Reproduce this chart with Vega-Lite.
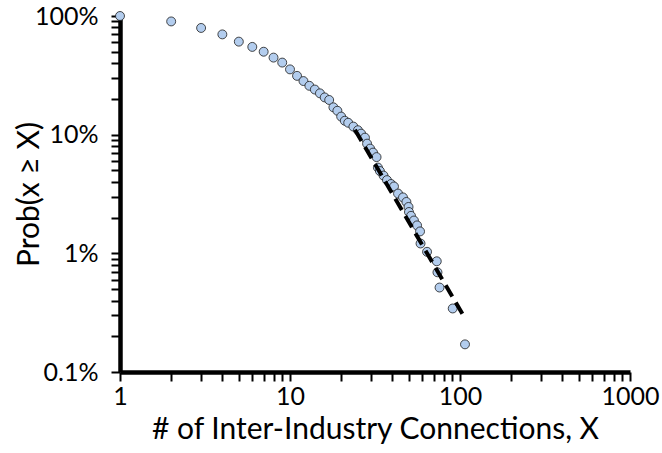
{
  "$schema": "https://vega.github.io/schema/vega-lite/v6.json",
  "width": 510,
  "height": 356,
  "autosize": {"type": "none"},
  "padding": {"left": 120, "top": 16, "right": 32, "bottom": 81},
  "background": "white",
  "config": {
    "view": {"stroke": null},
    "font": "Lato",
    "axis": {
      "grid": false,
      "domainColor": "black",
      "domainWidth": 4.5,
      "tickColor": "black",
      "tickWidth": 2,
      "tickSize": 9,
      "labelColor": "black",
      "titleColor": "black",
      "labelFont": "Lato",
      "titleFont": "Lato",
      "labelFontSize": 25,
      "titleFontSize": 30,
      "titleFontWeight": "normal"
    }
  },
  "datasets": {
    "points": [
      {"connections": 1, "prob": 1.0},
      {"connections": 2, "prob": 0.90},
      {"connections": 3, "prob": 0.793},
      {"connections": 4, "prob": 0.700},
      {"connections": 5, "prob": 0.608},
      {"connections": 6, "prob": 0.549},
      {"connections": 7, "prob": 0.500},
      {"connections": 8, "prob": 0.446},
      {"connections": 9, "prob": 0.405},
      {"connections": 10, "prob": 0.355},
      {"connections": 11, "prob": 0.313},
      {"connections": 12, "prob": 0.283},
      {"connections": 13, "prob": 0.258},
      {"connections": 14, "prob": 0.240},
      {"connections": 15, "prob": 0.223},
      {"connections": 16, "prob": 0.206},
      {"connections": 17, "prob": 0.196},
      {"connections": 18, "prob": 0.170},
      {"connections": 19, "prob": 0.159},
      {"connections": 20, "prob": 0.142},
      {"connections": 21, "prob": 0.131},
      {"connections": 22, "prob": 0.126},
      {"connections": 23.6, "prob": 0.117},
      {"connections": 25.1, "prob": 0.109},
      {"connections": 26.2, "prob": 0.102},
      {"connections": 27.6, "prob": 0.0944},
      {"connections": 28.4, "prob": 0.0840},
      {"connections": 29.6, "prob": 0.0763},
      {"connections": 30.8, "prob": 0.0706},
      {"connections": 32.3, "prob": 0.0647},
      {"connections": 32.9, "prob": 0.0528},
      {"connections": 33.8, "prob": 0.0494},
      {"connections": 35.5, "prob": 0.0452},
      {"connections": 37.2, "prob": 0.0414},
      {"connections": 39.3, "prob": 0.0384},
      {"connections": 40.9, "prob": 0.0366},
      {"connections": 43.2, "prob": 0.0319},
      {"connections": 46.2, "prob": 0.0296},
      {"connections": 48.4, "prob": 0.0271},
      {"connections": 49.8, "prob": 0.0246},
      {"connections": 50.1, "prob": 0.0223},
      {"connections": 51.5, "prob": 0.0207},
      {"connections": 53.6, "prob": 0.0189},
      {"connections": 55.9, "prob": 0.0172},
      {"connections": 58.2, "prob": 0.0153},
      {"connections": 58.6, "prob": 0.0121},
      {"connections": 64.0, "prob": 0.0103},
      {"connections": 73.0, "prob": 0.00857},
      {"connections": 73.7, "prob": 0.00692},
      {"connections": 75.8, "prob": 0.00515},
      {"connections": 90.6, "prob": 0.00343},
      {"connections": 107, "prob": 0.00171}
    ],
    "fit": [
      {"connections": 24.1, "prob": 0.110},
      {"connections": 107, "prob": 0.00284}
    ]
  },
  "layer": [
    {
      "data": {"name": "points"},
      "mark": {"type": "point", "shape": "circle", "filled": true, "size": 80, "fill": "#b3cdee", "stroke": "#1c1c1c", "strokeWidth": 0.8, "opacity": 1},
      "encoding": {
        "x": {
          "field": "connections",
          "type": "quantitative",
          "scale": {"type": "log", "domain": [1, 1000], "nice": false},
          "axis": {
            "title": "# of Inter-Industry Connections, X",
            "values": [1,2,3,4,5,6,7,8,9,10,20,30,40,50,60,70,80,90,100,200,300,400,500,600,700,800,900,1000],
            "format": "d",
            "labelExpr": "(datum.value == 1 || datum.value == 10 || datum.value == 100 || datum.value == 1000) ? datum.label : ''",
            "labelPadding": 3,
            "titlePadding": 5,
            "labelFlush": false,
            "labelOverlap": false
          }
        },
        "y": {
          "field": "prob",
          "type": "quantitative",
          "scale": {"type": "log", "domain": [0.001, 1], "nice": false},
          "axis": {
            "title": "Prob(x ≥ X)",
            "values": [0.001,0.002,0.003,0.004,0.005,0.006,0.007,0.008,0.009,0.01,0.02,0.03,0.04,0.05,0.06,0.07,0.08,0.09,0.1,0.2,0.3,0.4,0.5,0.6,0.7,0.8,0.9,1],
            "format": ".1~%",
            "labelExpr": "(datum.value == 0.001 || datum.value == 0.01 || datum.value == 0.1 || datum.value == 1) ? datum.label : ''",
            "labelPadding": 13,
            "titlePadding": -10,
            "labelFlush": false,
            "labelOverlap": false
          }
        }
      }
    },
    {
      "data": {"name": "fit"},
      "mark": {"type": "line", "color": "black", "strokeWidth": 4, "strokeDash": [13, 7]},
      "encoding": {
        "x": {"field": "connections", "type": "quantitative"},
        "y": {"field": "prob", "type": "quantitative"}
      }
    }
  ]
}
